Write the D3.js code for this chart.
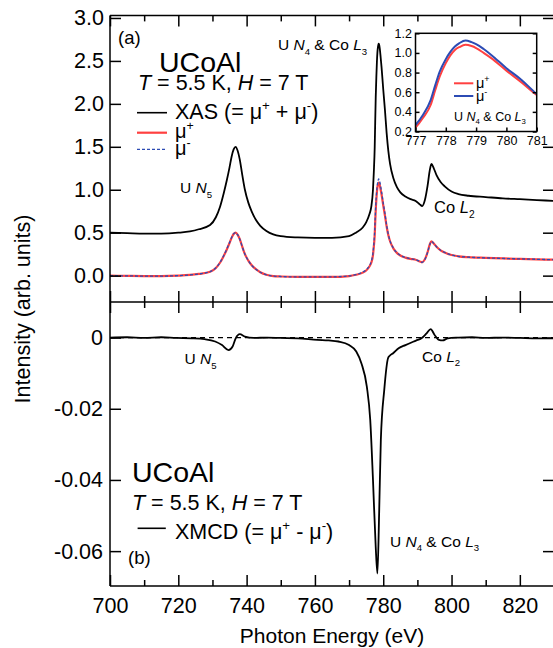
<!DOCTYPE html>
<html><head><meta charset="utf-8">
<script src="https://cdn.jsdelivr.net/npm/d3@7"></script>
<style>
body{margin:0;background:#fff}
svg{display:block}
text{font-family:"Liberation Sans",Arial,Helvetica,sans-serif;fill:#000}
</style>
</head><body>
<svg id="c" width="553" height="648"></svg>
<script>
// ---------------- data ----------------
const energy = [700,705,710,715,720,723.4,726,729.3,731,732.2,
  733.3,734.2,735,735.6,736.2,736.8,737.4,738,738.7,739.5,
  740.5,741.5,742.7,744,745.8,747.8,750,755,760,765,
  770,772,774,775,776,776.5,777,777.25,777.5,777.65,
  777.8,778,778.15,778.3,778.45,778.65,778.85,779,779.25,779.5,
  780,780.5,781,781.5,782,783,784,785,786.5,788,
  789.5,790.7,791.4,792.2,793,793.6,794.1,794.8,795.6,796.8,
  798,800,802,805,810,815,820,825,830];
const xas = [0.50,0.495,0.49,0.49,0.50,0.515,0.54,0.59,0.68,0.80,
  0.96,1.11,1.26,1.385,1.47,1.50,1.45,1.35,1.18,1.00,
  0.85,0.745,0.65,0.58,0.52,0.48,0.46,0.445,0.44,0.44,
  0.46,0.50,0.56,0.62,0.72,0.80,1.00,1.21,1.49,1.79,
  2.07,2.33,2.49,2.60,2.66,2.70,2.68,2.64,2.54,2.43,
  2.17,1.93,1.66,1.45,1.30,1.13,1.03,0.97,0.92,0.89,
  0.87,0.83,0.81,0.88,1.05,1.22,1.30,1.25,1.17,1.09,
  1.04,0.98,0.95,0.93,0.915,0.90,0.89,0.88,0.87];
const muPlus = [0.0,-0.003,-0.005,-0.005,0.0,0.008,0.02,0.045,0.09,0.15,
  0.23,0.305,0.38,0.44,0.485,0.50,0.475,0.425,0.34,0.25,
  0.175,0.12,0.075,0.04,0.01,-0.005,-0.01,-0.015,-0.015,-0.015,
  -0.005,0.01,0.035,0.06,0.11,0.15,0.24,0.34,0.47,0.62,
  0.76,0.896,0.975,1.03,1.06,1.083,1.07,1.05,1.00,0.947,
  0.82,0.70,0.572,0.47,0.40,0.315,0.265,0.235,0.21,0.195,
  0.185,0.165,0.155,0.19,0.275,0.36,0.40,0.375,0.335,0.295,
  0.27,0.24,0.225,0.215,0.207,0.20,0.195,0.19,0.185];
const muMinus = [0.0,-0.003,-0.005,-0.005,0.0,0.008,0.02,0.046,0.092,0.153,
  0.234,0.31,0.385,0.444,0.487,0.50,0.474,0.423,0.34,0.25,
  0.175,0.12,0.075,0.04,0.01,-0.005,-0.01,-0.015,-0.015,-0.014,
  -0.003,0.013,0.04,0.067,0.12,0.165,0.266,0.37,0.52,0.67,
  0.81,0.937,1.01,1.065,1.10,1.127,1.11,1.09,1.04,0.98,
  0.845,0.725,0.583,0.478,0.405,0.318,0.267,0.237,0.211,0.196,
  0.186,0.165,0.155,0.188,0.272,0.357,0.398,0.376,0.336,0.296,
  0.27,0.24,0.225,0.215,0.207,0.20,0.195,0.19,0.185];

const xmcdEnergy = [700,705,710,715,719.4,724,727.7,730.8,732.8,734.7,
  735.9,736.8,738.0,739.5,742.1,746,750,755,760.7,764,
  766.9,770,772.1,773.6,775.2,776.2,777.0,777.8,778.3,778.8,
  779.3,780.3,781.4,781.9,782.9,784.5,786.5,789.6,791.2,792.7,
  793.9,795.0,796.3,797.4,798.9,802,806,810,815,820,825,830];
const xmcd = [0,0.0001,-0.0001,0.0001,-0.0001,-0.0002,-0.00045,-0.0011,-0.0021,-0.0035,
  -0.0025,-0.0002,0.00095,0.0003,-0.0001,0.0,-0.0001,-0.0002,-0.00065,-0.0008,
  -0.0011,-0.0021,-0.0039,-0.0072,-0.0138,-0.0232,-0.040,-0.0588,-0.0663,-0.0494,
  -0.0288,-0.0147,-0.0058,-0.0051,-0.0044,-0.003,-0.0021,-0.00084,-0.0002,0.0012,
  0.0024,0.0008,-0.00065,-0.0008,-0.0002,0.0,0.0001,-0.0001,0.0,-0.0001,-0.0002,-0.0002];

const xMajorTicks = [700,720,740,760,780,800,820];
const xMinorTicks = [710,730,750,770,790,810];
const topYTicks = [0,0.5,1.0,1.5,2.0,2.5,3.0];
const bottomYTicks = [0,-0.02,-0.04,-0.06];
const insetXTicks = [777,778,779,780,781];
const insetYTicks = [0.2,0.4,0.6,0.8,1.0,1.2];

// ---------------- setup ----------------
const FONT = '"Liberation Sans",Arial,Helvetica,sans-serif';
const RED = "#ff4040", BLUE = "#2c4bb4";
const svg = d3.select("#c");
const x = d3.scaleLinear().domain([700,830]).range([110,554]);
const yT = d3.scaleLinear().domain([-0.307,3.03]).range([302,15.4]);
const yB = d3.scaleLinear().domain([-0.0698,0.01]).range([586,302]);

function styleAxis(g, fs){
  g.select(".domain").remove();
  g.selectAll("line").attr("stroke","#000").attr("stroke-width",1.5);
  g.selectAll("text").attr("font-size",fs||21.5).attr("fill","#000").attr("font-family",FONT);
}
function addAxis(axis, tx, ty, fs){
  const g = svg.append("g").attr("transform",`translate(${tx},${ty})`).call(axis);
  styleAxis(g, fs);
  return g;
}

const defs = svg.append("defs");
defs.append("clipPath").attr("id","clipT").append("rect").attr("x",110).attr("y",15.4).attr("width",444).attr("height",286.6);
defs.append("clipPath").attr("id","clipB").append("rect").attr("x",110).attr("y",302).attr("width",444).attr("height",284);

// ---------------- top panel ----------------
const lineT = (vals) => d3.line().x((d,i)=>x(energy[i])).y(d=>yT(d)).curve(d3.curveMonotoneX)(vals);
const gT = svg.append("g").attr("clip-path","url(#clipT)");
gT.append("path").attr("d",lineT(xas)).attr("fill","none").attr("stroke","#000").attr("stroke-width",1.8);
gT.append("path").attr("d",lineT(muPlus)).attr("fill","none").attr("stroke",RED).attr("stroke-width",2.2);
gT.append("path").attr("d",lineT(muMinus)).attr("fill","none").attr("stroke",BLUE).attr("stroke-width",1.3).attr("stroke-dasharray","3,2");

// ---------------- bottom panel ----------------
svg.append("line").attr("x1",110).attr("x2",554).attr("y1",yB(0)).attr("y2",yB(0))
  .attr("stroke","#000").attr("stroke-width",1.2).attr("stroke-dasharray","5,4");
const lineB = d3.line().x((d,i)=>x(xmcdEnergy[i])).y(d=>yB(d)).curve(d3.curveMonotoneX);
svg.append("g").attr("clip-path","url(#clipB)").append("path").attr("d",lineB(xmcd))
  .attr("fill","none").attr("stroke","#000").attr("stroke-width",1.8);

// ---------------- frames & axes ----------------
[[15.4],[302],[586]].forEach(([yy])=>svg.append("line").attr("x1",110).attr("x2",554).attr("y1",yy).attr("y2",yy).attr("stroke","#000").attr("stroke-width",1.5));
svg.append("line").attr("x1",110).attr("x2",110).attr("y1",15.4).attr("y2",586).attr("stroke","#000").attr("stroke-width",1.5);
svg.append("line").attr("x1",554).attr("x2",554).attr("y1",15.4).attr("y2",586).attr("stroke","#000").attr("stroke-width",1.5);

addAxis(d3.axisTop(x).tickValues(xMajorTicks).tickSize(-11).tickFormat(""),0,15.4);
addAxis(d3.axisTop(x).tickValues(xMinorTicks).tickSize(-6).tickFormat(""),0,15.4);
addAxis(d3.axisBottom(x).tickValues(xMajorTicks).tickSize(-11).tickFormat(""),0,302);
addAxis(d3.axisBottom(x).tickValues(xMinorTicks).tickSize(-6).tickFormat(""),0,302);
addAxis(d3.axisTop(x).tickValues(xMajorTicks).tickSize(-11).tickFormat(""),0,302);
addAxis(d3.axisTop(x).tickValues(xMinorTicks).tickSize(-6).tickFormat(""),0,302);
addAxis(d3.axisBottom(x).tickValues(xMajorTicks).tickSize(-11).tickPadding(11.5).tickFormat(d=>String(d)),0,586);
addAxis(d3.axisBottom(x).tickValues(xMinorTicks).tickSize(-6).tickFormat(""),0,586);

addAxis(d3.axisLeft(yT).tickValues(topYTicks).tickSize(-11).tickPadding(6).tickFormat(d=>d.toFixed(1)),110,0);
addAxis(d3.axisRight(yT).tickValues(topYTicks).tickSize(-11).tickFormat(""),554,0);
addAxis(d3.axisLeft(yB).tickValues(bottomYTicks).tickSize(-11).tickPadding(7).tickFormat(d=>d===0?"0":d.toFixed(2)),110,0);
addAxis(d3.axisRight(yB).tickValues(bottomYTicks).tickSize(-11).tickFormat(""),554,0);

svg.append("text").attr("x",332).attr("y",643).attr("text-anchor","middle").attr("font-size",21).text("Photon Energy (eV)");
svg.append("text").attr("transform","translate(30,309) rotate(-90)").attr("text-anchor","middle").attr("font-size",21.5).text("Intensity (arb. units)");

// ---------------- rich text helper ----------------
function rich(x0, y0, size, segs){
  const t = svg.append("text").attr("x",x0).attr("y",y0).attr("font-size",size);
  let cur = 0;
  segs.forEach(([str,mode])=>{
    const ts = t.append("tspan").text(str);
    let target = 0;
    if(mode==="sub"){ target = size*0.3; ts.attr("font-size",size*0.62); }
    else if(mode==="sup"){ target = -size*0.38; ts.attr("font-size",size*0.62); }
    if(mode==="i") ts.attr("font-style","italic");
    if(target!==cur) ts.attr("dy",target-cur);
    cur = target;
  });
  return t;
}

// top panel annotations
svg.append("text").attr("x",118).attr("y",44).attr("font-size",18.5).text("(a)");
svg.append("text").attr("x",159).attr("y",71.5).attr("font-size",28.5).text("UCoAl");
rich(138,90,21.5,[["T","i"],[" = 5.5 K, ",""],["H","i"],[" = 7 T",""]]);
svg.append("line").attr("x1",137).attr("x2",167).attr("y1",112.7).attr("y2",112.7).attr("stroke","#000").attr("stroke-width",1.6);
rich(175,118.5,21.5,[["XAS (= μ",""],["+","sup"],[" + μ",""],["-","sup"],[")",""]]);
svg.append("line").attr("x1",137).attr("x2",167).attr("y1",132.7).attr("y2",132.7).attr("stroke",RED).attr("stroke-width",2.2);
rich(175,137.5,20,[["μ",""],["+","sup"]]);
svg.append("line").attr("x1",137).attr("x2",167).attr("y1",149.3).attr("y2",149.3).attr("stroke",BLUE).attr("stroke-width",1.2).attr("stroke-dasharray","3,2");
rich(175,154.5,20,[["μ",""],["-","sup"]]);
rich(180,193,15.5,[["U ",""],["N","i"],["5","sub"]]);
rich(278,50,15.5,[["U ",""],["N","i"],["4","sub"],[" & Co ",""],["L","i"],["3","sub"]]);
rich(434,213,16.5,[["Co ",""],["L","i"],["2","sub"]]);

// bottom panel annotations
rich(184.5,364,15.5,[["U ",""],["N","i"],["5","sub"]]);
rich(422,361.7,15.5,[["Co ",""],["L","i"],["2","sub"]]);
rich(390,546.7,15.5,[["U ",""],["N","i"],["4","sub"],[" & Co ",""],["L","i"],["3","sub"]]);
svg.append("text").attr("x",132).attr("y",481.5).attr("font-size",28.5).text("UCoAl");
rich(132,509.5,21.5,[["T","i"],[" = 5.5 K, ",""],["H","i"],[" = 7 T",""]]);
svg.append("line").attr("x1",137.6).attr("x2",165.8).attr("y1",528.3).attr("y2",528.3).attr("stroke","#000").attr("stroke-width",1.6);
rich(175,538.5,21.5,[["XMCD (= μ",""],["+","sup"],[" - μ",""],["-","sup"],[")",""]]);
svg.append("text").attr("x",128).attr("y",564).attr("font-size",18.5).text("(b)");

// ---------------- inset ----------------
const xi = d3.scaleLinear().domain([777,781]).range([415.5,536.7]);
const yi = d3.scaleLinear().domain([0.2,1.2]).range([131.5,33.3]);
svg.append("rect").attr("x",415.5).attr("y",33.3).attr("width",121.2).attr("height",98.2).attr("fill","#fff");
defs.append("clipPath").attr("id","clipI").append("rect").attr("x",415.5).attr("y",33.3).attr("width",121.2).attr("height",98.2);
const lineI = (vals) => d3.line().x((d,i)=>xi(energy[i])).y(d=>yi(d)).curve(d3.curveMonotoneX)(vals);
const gI = svg.append("g").attr("clip-path","url(#clipI)");
gI.append("path").attr("d",lineI(muPlus)).attr("fill","none").attr("stroke",RED).attr("stroke-width",2);
gI.append("path").attr("d",lineI(muMinus)).attr("fill","none").attr("stroke",BLUE).attr("stroke-width",2);
svg.append("rect").attr("x",415.5).attr("y",33.3).attr("width",121.2).attr("height",98.2).attr("fill","none").attr("stroke","#000").attr("stroke-width",1.5);
addAxis(d3.axisBottom(xi).tickValues(insetXTicks).tickSize(-4).tickPadding(4.5).tickFormat(d=>String(d)),0,131.5,12.5);
addAxis(d3.axisLeft(yi).tickValues(insetYTicks).tickSize(-4).tickPadding(3.5).tickFormat(d=>d.toFixed(1)),415.5,0,12.5);
addAxis(d3.axisRight(yi).tickValues(insetYTicks).tickSize(-4).tickFormat(""),536.7,0,12.5);
svg.append("line").attr("x1",454).attr("x2",473.3).attr("y1",83.3).attr("y2",83.3).attr("stroke",RED).attr("stroke-width",2);
rich(476,88,14.5,[["μ",""],["+","sup"]]);
svg.append("line").attr("x1",454).attr("x2",473.3).attr("y1",96).attr("y2",96).attr("stroke",BLUE).attr("stroke-width",2);
rich(476,100.5,14.5,[["μ",""],["-","sup"]]);
rich(454,120.7,12.5,[["U ",""],["N","i"],["4","sub"],[" & Co ",""],["L","i"],["3","sub"]]);
</script>
</body></html>
